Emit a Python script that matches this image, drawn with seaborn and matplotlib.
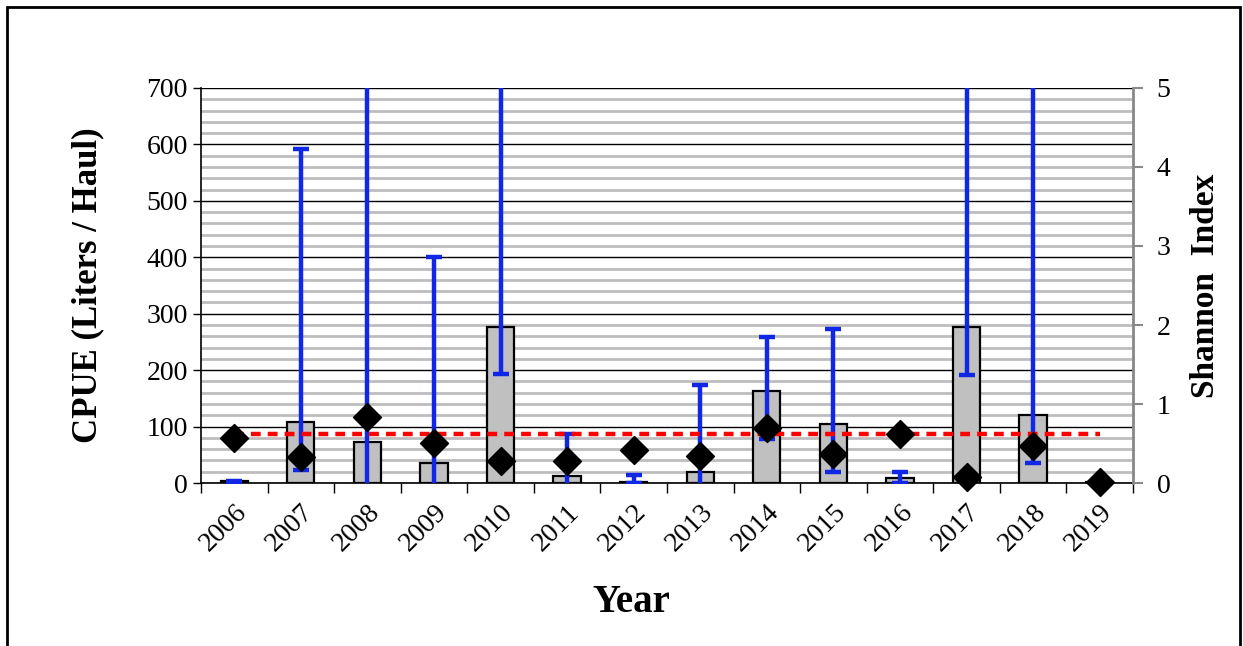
import numpy as np
import pandas as pd
import matplotlib
matplotlib.use("Agg")
import matplotlib.pyplot as plt
import seaborn as sns
from matplotlib.ticker import MultipleLocator, FixedLocator
from matplotlib.patches import Rectangle

years = ["2006", "2007", "2008", "2009", "2010", "2011", "2012",
         "2013", "2014", "2015", "2016", "2017", "2018", "2019"]
cpue = [3, 108, 73, 35, 276, 12, 2, 19, 163, 105, 8, 276, 120, 1]
err_low = [0, 23, -60, -60, 193, -30, 0, -40, 78, 19, 0, 191, 35, 1]
err_high = [3, 592, 900, 400, 900, 87, 14, 174, 259, 273, 19, 900, 900, 1]
shannon = [0.57, 0.33, 0.84, 0.51, 0.28, 0.28, 0.42, 0.34, 0.70, 0.37, 0.62, 0.08, 0.47, 0.01]
ref_line = [0.62] * len(years)

df = pd.DataFrame({"Year": years, "CPUE": cpue, "lo": err_low, "hi": err_high,
                   "H": shannon, "ref": ref_line})

sns.set_style("white")
plt.rcParams["font.family"] = ["Liberation Serif", "DejaVu Serif"]
plt.rcParams["text.color"] = "black"
plt.rcParams["axes.labelcolor"] = "black"
plt.rcParams["xtick.color"] = "black"
plt.rcParams["ytick.color"] = "black"

fig = plt.figure(figsize=(12.43, 6.46), dpi=100)
ax = fig.add_axes([0.1617, 0.2523, 0.7498, 0.6115])

sns.barplot(data=df, x="Year", y="CPUE", order=years, color="#C0C0C0",
            edgecolor="black", linewidth=1.6, width=0.41, ax=ax, zorder=3,
            saturation=1)

xpos = np.arange(len(years))
yerr = np.vstack([df["CPUE"] - df["lo"], df["hi"] - df["CPUE"]])
mask = np.array(years) != "2019"
ax.errorbar(xpos[mask], df["CPUE"][mask], yerr=yerr[:, mask], fmt="none",
            ecolor="#1028E6", elinewidth=3.2, capsize=6, capthick=3.2, zorder=4)

ax.set_ylim(0, 700)
ax.set_xlim(-0.5, len(years) - 0.5)
ax.yaxis.set_major_locator(MultipleLocator(100))
ax.yaxis.set_minor_locator(MultipleLocator(20))
ax.grid(which="minor", axis="y", color="#BDBDBD", linewidth=2.0, zorder=0)
ax.grid(which="major", axis="y", color="black", linewidth=1.0, zorder=1)
ax.grid(which="both", axis="x", visible=False)
ax.set_axisbelow(True)

ax.set_xticks(xpos)
ax.set_xticklabels(years, rotation=45, ha="right", rotation_mode="anchor", fontsize=20)
ax.xaxis.set_minor_locator(FixedLocator(np.arange(-0.5, len(years), 1.0)))
ax.tick_params(axis="x", which="major", length=0, pad=12, labelcolor="black")
ax.tick_params(axis="x", which="minor", length=7, width=1, color="black", direction="out", bottom=True)
ax.tick_params(axis="y", which="major", labelsize=20, length=6, width=1, direction="out",
               left=True, labelcolor="black")
ax.tick_params(axis="y", which="minor", length=0)

ax.set_xlabel("Year", fontsize=28, fontweight="bold", color="black")
ax.xaxis.set_label_coords(0.462, -0.255)
ax.set_ylabel("CPUE (Liters / Haul)", fontsize=25, fontweight="bold", labelpad=30, color="black")

for s in ["left", "bottom"]:
    ax.spines[s].set_color("black")
    ax.spines[s].set_linewidth(1.2)
ax.spines["top"].set_visible(False)
ax.spines["right"].set_visible(False)

ax2 = ax.twinx()
sns.scatterplot(data=df, x=xpos, y="H", marker="D", s=200, color="black",
                edgecolor="black", ax=ax2, zorder=6, clip_on=False)
ax2.plot(xpos, df["ref"], color="#FF0000", linestyle=(0, (2.2, 1.6)), linewidth=3.2, zorder=5)
ax2.set_ylim(0, 5)
ax2.set_xlim(-0.5, len(years) - 0.5)
ax2.yaxis.set_major_locator(MultipleLocator(1))
ax2.tick_params(axis="y", labelsize=20, length=7, width=1.5, color="#888888", direction="out",
                right=True, pad=10, labelcolor="black")
ax2.set_ylabel("Shannon  Index", fontsize=24, fontweight="bold", labelpad=14, color="black")
ax2.grid(False)
for s in ["left", "top", "bottom"]:
    ax2.spines[s].set_visible(False)
ax2.spines["right"].set_color("#888888")
ax2.spines["right"].set_linewidth(2)

fig.patches.append(Rectangle((7 / 1243, -0.01), 1233 / 1243, 1 - 7 / 646 + 0.01,
                             transform=fig.transFigure, fill=False,
                             edgecolor="black", linewidth=2))

fig.savefig("out.png", dpi=100)
